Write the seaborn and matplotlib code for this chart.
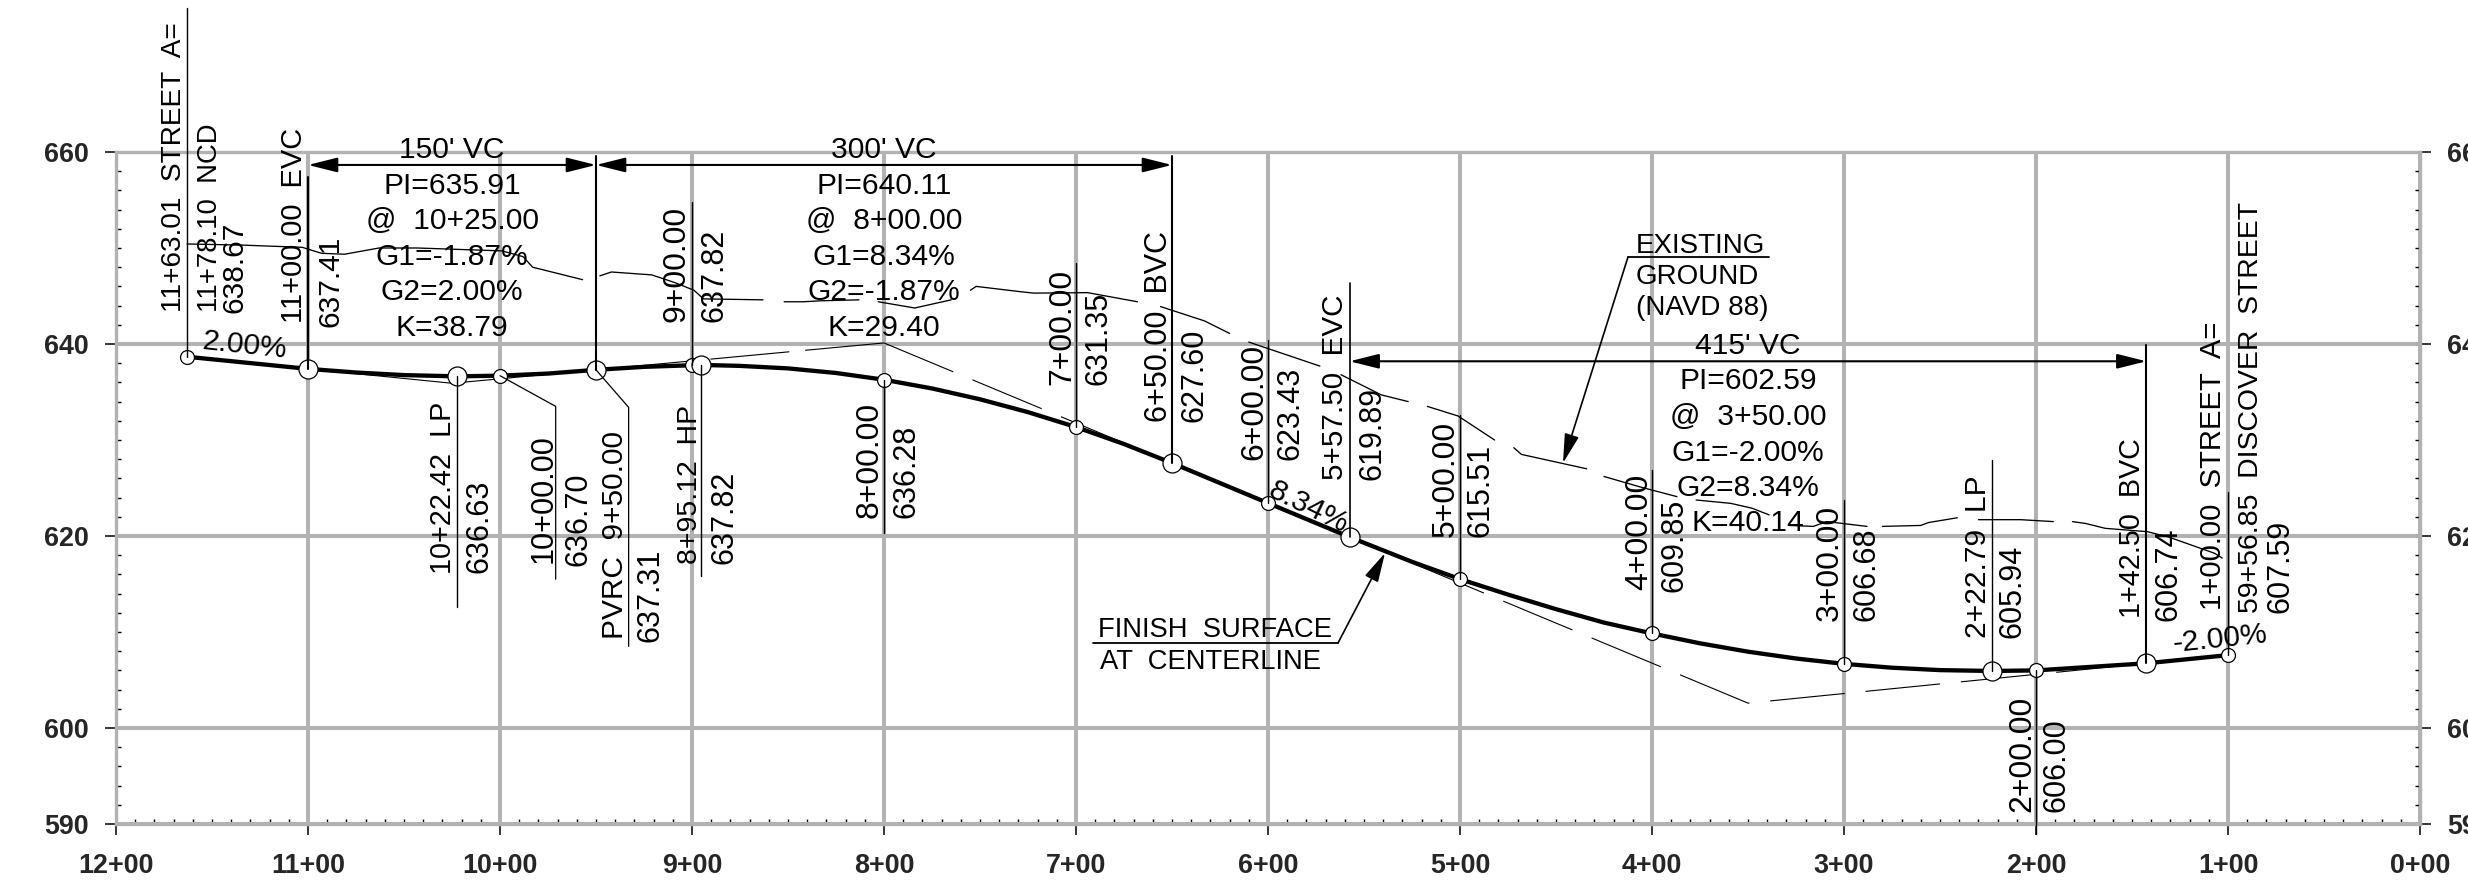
import matplotlib
matplotlib.use("Agg")
import matplotlib.pyplot as plt
from matplotlib.ticker import FixedLocator, MultipleLocator, FixedFormatter
from matplotlib.transforms import Affine2D
import seaborn as sns

# ---------- data read from the profile ----------
surface_station = [11.6301, 11.00, 10.75, 10.50, 10.2242, 10.00, 9.75, 9.50, 9.25, 8.9512, 8.75, 8.50, 8.25, 8.00,
                   7.75, 7.50, 7.25, 7.00, 6.75, 6.50, 6.00, 5.575, 5.25, 5.00, 4.75, 4.50, 4.25, 4.00,
                   3.75, 3.50, 3.25, 3.00, 2.75, 2.50, 2.2279, 2.00, 1.425, 1.00]
surface_elev = [638.67, 637.41, 637.03, 636.76, 636.63, 636.70, 636.92, 637.31, 637.62, 637.82, 637.72, 637.46, 636.98, 636.28,
                635.37, 634.24, 632.90, 631.35, 629.58, 627.60, 623.43, 619.89, 617.31, 615.51, 613.90, 612.38, 610.98, 609.85,
                608.82, 607.95, 607.24, 606.68, 606.28, 606.03, 605.94, 606.00, 606.74, 607.59]

small_station = [11.6301, 10.00, 9.00, 8.00, 7.00, 6.00, 5.00, 4.00, 3.00, 2.00, 1.00]
small_elev = [638.67, 636.70, 637.82, 636.28, 631.35, 623.43, 615.51, 609.85, 606.68, 606.00, 607.59]
large_station = [11.00, 10.2242, 9.50, 8.9512, 6.50, 5.575, 2.2279, 1.425]
large_elev = [637.41, 636.63, 637.31, 637.82, 627.60, 619.89, 605.94, 606.74]

ground_station = [11.63, 11.34, 11.03, 10.93, 10.81, 10.63, 10.43, 9.99, 9.88, 9.83, 9.57,
                  9.48, 9.42, 9.21, 9.09, 8.99, 8.94, 8.63,
                  8.52, 8.42, 8.33, 8.13,
                  8.03, 7.84, 7.65,
                  7.55, 7.52, 7.29, 7.22, 6.94, 6.68,
                  6.56, 6.33, 6.20,
                  6.10, 5.73,
                  5.62, 5.41, 5.27,
                  5.17, 5.01, 4.82,
                  4.72, 4.68, 4.34,
                  4.25, 4.06, 3.87,
                  3.77, 3.59, 3.48, 3.39,
                  3.28, 3.16, 3.09, 2.88,
                  2.80, 2.60, 2.56, 2.41,
                  2.30, 2.08, 1.91,
                  1.81, 1.74, 1.64, 1.42, 1.31, 1.07, 1.03]
ground_elev = [650.42, 650.30, 650.07, 649.45, 649.35, 650.00, 650.00, 649.70, 649.10, 648.00, 646.70,
               647.10, 647.50, 647.20, 646.40, 645.60, 644.70, 644.60,
               644.40, 644.40, 644.50, 644.60,
               644.40, 643.75, 644.60,
               645.60, 646.00, 645.45, 645.30, 645.35, 644.40,
               643.90, 642.40, 641.10,
               640.20, 637.70,
               636.80, 634.70, 634.00,
               633.50, 632.50, 630.00,
               629.20, 628.50, 627.00,
               626.20, 625.10, 624.10,
               623.75, 623.40, 622.90, 622.20,
               621.10, 621.00, 621.50, 621.00,
               621.00, 621.10, 621.40, 621.90,
               621.70, 621.70, 621.50,
               621.50, 621.30, 620.80, 620.45, 619.90, 618.20, 617.70]
ground_run = [0]*11 + [1]*7 + [2]*4 + [3]*3 + [4]*6 + [5]*3 + [6]*2 + [7]*3 + [8]*3 + [9]*3 + [10]*3 + \
             [11]*4 + [12]*4 + [13]*4 + [14]*3 + [15]*7

tangent_solid_station = [11.00, 10.25, 9.50]
tangent_solid_elev = [637.41, 635.91, 637.31]
tangent_left_station = [8.00, 9.50]
tangent_left_elev = [640.11, 637.31]
tangent_right_station = [8.00, 3.50, 1.425]
tangent_right_elev = [640.11, 602.59, 606.74]

leader_station = [11.6301, 11.00, 9.00, 9.50, 7.00, 6.50, 6.00, 5.575, 5.00, 4.00, 3.00, 2.2279, 1.425, 1.00,
                  10.2242, 8.9512, 8.00, 2.00]
leader_from = [638.67, 637.41, 637.82, 637.31, 631.35, 627.60, 623.43, 619.89, 615.51, 609.85, 606.68, 605.94, 606.74, 607.59,
               636.63, 637.82, 636.28, 606.00]
leader_to = [675.0, 657.4, 654.8, 659.6, 648.4, 659.6, 640.4, 646.4, 632.6, 626.9, 623.7, 627.9, 639.9, 624.6,
             612.6, 615.8, 620.3, 589.0]
leader_width = [1.0, 1.5, 1.0, 1.5, 1.0, 1.5, 1.0, 1.2, 1.0, 1.0, 1.0, 1.0, 1.5, 1.0, 1.0, 1.0, 1.0, 1.0]
bent_a_station = [10.00, 9.71, 9.71]
bent_a_elev = [636.70, 633.5, 615.5]
bent_b_station = [9.50, 9.33, 9.33]
bent_b_elev = [637.31, 633.4, 608.5]

x_ticks = [12, 11, 10, 9, 8, 7, 6, 5, 4, 3, 2, 1, 0]
x_tick_labels = ["12+00", "11+00", "10+00", "9+00", "8+00", "7+00", "6+00", "5+00", "4+00", "3+00", "2+00", "1+00", "0+00"]
y_ticks = [590, 600, 620, 640, 660]

vc_spans = [(11.00, 9.50, 658.65), (9.50, 6.50, 658.65), (5.575, 1.425, 638.2)]

# ---------- figure ----------
sns.set_theme(style="white")
plt.rcParams["font.family"] = ["Liberation Sans", "DejaVu Sans"]
plt.rcParams["font.weight"] = "bold"
plt.rcParams["lines.scale_dashes"] = False

W, H = 2468, 882
fig = plt.figure(figsize=(W/100, H/100), dpi=100, facecolor="white")
ax = fig.add_axes([116/W, (H-824)/H, (2420-116)/W, (824-152)/H])
ax.set_xlim(12, 0)
ax.set_ylim(590, 660)
GRAY = "#b2b2b2"

ax.xaxis.set_major_locator(FixedLocator(x_ticks))
ax.xaxis.set_major_formatter(FixedFormatter(x_tick_labels))
ax.xaxis.set_minor_locator(MultipleLocator(0.1))
ax.yaxis.set_major_locator(FixedLocator(y_ticks))
ax.yaxis.set_minor_locator(MultipleLocator(2))
ax.grid(True, which="major", color=GRAY, lw=2.9, zorder=1)
ax.set_axisbelow(True)
for s in ax.spines.values():
    s.set_color(GRAY)
    s.set_linewidth(2.4)
ax.tick_params(axis="x", which="major", direction="out", length=8, width=1.1, color="black",
               labelsize=19.4, pad=13, bottom=True, top=False)
ax.tick_params(axis="x", which="minor", direction="in", length=3.8, width=1.0, color="black",
               bottom=True, top=False)
ax.tick_params(axis="y", which="major", direction="out", length=8, width=1.1, color="black",
               labelsize=19.4, pad=11.5, left=True, right=True, labelleft=True, labelright=True)
ax.tick_params(axis="y", which="minor", direction="in", length=3.8, width=1.0, color="black",
               left=True, right=True)

# tangents
sns.lineplot(x=tangent_solid_station, y=tangent_solid_elev, color="black", lw=0.8, sort=False,
             estimator=None, ax=ax, zorder=2)
sns.lineplot(x=tangent_left_station, y=tangent_left_elev, color="black", lw=0.8, sort=False,
             estimator=None, ax=ax, zorder=2, linestyle=(0, (57, 11.5)))
sns.lineplot(x=tangent_right_station, y=tangent_right_elev, color="black", lw=0.8, sort=False,
             estimator=None, ax=ax, zorder=2, linestyle=(0, (54, 15)))
# existing ground
sns.lineplot(x=ground_station, y=ground_elev, units=ground_run, color="black", lw=0.95, sort=False,
             estimator=None, ax=ax, zorder=3)
# finish surface
sns.lineplot(x=surface_station, y=surface_elev, color="black", lw=3.1, sort=False,
             estimator=None, ax=ax, zorder=3)
# station circles
sns.scatterplot(x=small_station, y=small_elev, s=100, color="white", edgecolor="black", linewidth=0.9,
                ax=ax, zorder=4)
sns.scatterplot(x=large_station, y=large_elev, s=187, color="white", edgecolor="black", linewidth=0.9,
                ax=ax, zorder=4)
# leaders
for st, a, b, w in zip(leader_station, leader_from, leader_to, leader_width):
    ax.plot([st, st], [a, b], color="black", lw=w, zorder=5, clip_on=False)
ax.plot(bent_a_station, bent_a_elev, color="black", lw=0.9, zorder=5)
ax.plot(bent_b_station, bent_b_elev, color="black", lw=0.9, zorder=5)

# VC dimension arrows
for a, b, e in vc_spans:
    ax.annotate("", xy=(b, e), xytext=(a, e),
                arrowprops=dict(arrowstyle="<|-|>,head_length=1.0,head_width=0.25", mutation_scale=18,
                                color="black", lw=1.5, shrinkA=0, shrinkB=0), zorder=5)

pix = Affine2D().scale(1, -1).translate(0, H)
SANS = ["Liberation Sans", "DejaVu Sans"]


def rot(x, y, s, size):
    """Rotated CAD label: x = baseline in pixels, y = start of string in pixels."""
    ax.text(x, y, s, transform=pix, rotation=90, rotation_mode="anchor", ha="left", va="baseline",
            fontsize=size, family=SANS, weight="normal", color="black", zorder=6, clip_on=False)


def hor(x, y, s, ha="center", size=21.6, angle=0):
    ax.text(x, y, s, transform=pix, ha=ha, va="baseline", fontsize=size, family=SANS, weight="normal",
            color="black", zorder=6, clip_on=False, rotation=angle, rotation_mode="anchor")


for x, y, s, size in [
    (181, 312, "11+63.01  STREET  A=", 20.2), (217, 312, "11+78.10  NCD", 19.8), (243, 313, "638.67", 21.5),
    (302, 323, "11+00.00  EVC", 20.9), (338, 327, "637.41", 21.5),
    (685, 322, "9+00.00", 23), (723, 322, "637.82", 22),
    (451, 574, "10+22.42  LP", 20.7), (487.5, 573, "636.63", 22),
    (552, 563, "10+00.00", 22), (587, 566, "636.70", 22),
    (623, 639, "PVRC  9+50.00", 21.5), (658, 642, "637.31", 22),
    (697, 564, "8+95.12  HP", 20.5), (732, 564, "637.82", 22),
    (877.5, 518, "8+00.00", 23), (914, 518, "636.28", 22),
    (1070, 385, "7+00.00", 23), (1107, 385, "631.35", 22),
    (1167, 422, "6+50.00  BVC", 22), (1202, 422, "627.60", 22),
    (1262, 460, "6+00.00", 23), (1298.5, 460, "623.43", 22),
    (1343, 480, "5+57.50  EVC", 21.3), (1380, 480, "619.89", 22),
    (1454, 537, "5+00.00", 23), (1489, 537, "615.51", 22),
    (1647, 590, "4+00.00", 23), (1682, 592, "609.85", 22),
    (1838, 621, "3+00.00", 23), (1874, 621, "606.68", 22),
    (1986, 638, "2+22.79  LP", 21.6), (2021, 638, "605.94", 22),
    (2140, 618, "1+42.50  BVC", 20.7), (2176, 621, "606.74", 22),
    (2221, 610, "1+00.00  STREET  A=", 21.1), (2258, 613, "59+56.85  DISCOVER  STREET", 20.4), (2289, 613, "607.59", 22),
    (2030, 812, "2+00.00", 23), (2065, 812, "606.00", 22),
]:
    rot(x, y, s, size)

for cx, ys, lines in [
    (452, [158, 194, 229, 265, 300, 336], ["150' VC", "PI=635.91", "@  10+25.00", "G1=-1.87%", "G2=2.00%", "K=38.79"]),
    (884, [158, 194, 229, 265, 300, 336], ["300' VC", "PI=640.11", "@  8+00.00", "G1=8.34%", "G2=-1.87%", "K=29.40"]),
    (1748, [354, 389, 425, 461, 496, 531], ["415' VC", "PI=602.59", "@  3+50.00", "G1=-2.00%", "G2=8.34%", "K=40.14"]),
]:
    for y, s in zip(ys, lines):
        hor(cx, y, s)

hor(244, 353, "2.00%", angle=-6)
hor(1305, 515, "8.34%", angle=-26)
hor(2221, 647, "-2.00%", angle=6)

hor(1636, 253, "EXISTING", ha="left", size=20)
hor(1636, 284, "GROUND", ha="left", size=20)
hor(1636, 315, "(NAVD 88)", ha="left", size=20)
hor(1098, 637, "FINISH  SURFACE", ha="left", size=19.7)
hor(1100, 669, "AT  CENTERLINE", ha="left", size=19.7)

# note underlines and arrows
for xs, y in [((1628, 1769), 257), ((1093, 1338), 643)]:
    ax.plot(xs, (y, y), color="black", lw=1.3, transform=pix, zorder=5, clip_on=False)
for start, tip in [((1628, 257), (1563, 463)), ((1338, 643), (1385, 553))]:
    ax.annotate("", xy=tip, xytext=start, xycoords=pix, textcoords=pix,
                arrowprops=dict(arrowstyle="-|>,head_length=1.0,head_width=0.25", mutation_scale=18,
                                color="black", lw=1.2, shrinkA=0, shrinkB=0), zorder=5)

ax.set_xlabel("")
ax.set_ylabel("")
fig.savefig("out.png", dpi=100, facecolor="white")
